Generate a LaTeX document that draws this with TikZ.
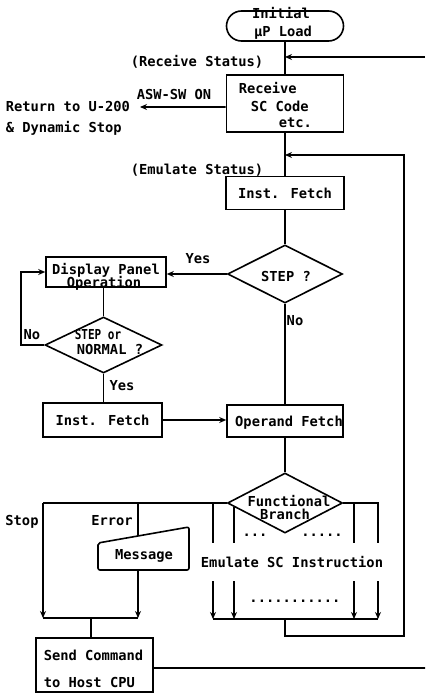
\documentclass[tikz,border=0pt]{standalone}
\usepackage{fontspec}
\usepackage{graphicx}
\setmainfont{DejaVu Sans Mono}
\usetikzlibrary{shapes.geometric,shapes.misc,arrows.meta}
\begin{document}
\begin{tikzpicture}[x=1bp,y=-1bp,line width=1.6bp,
  every node/.style={inner sep=0pt,font=\fontsize{13.8}{17}\selectfont\bfseries,text height=10bp,text depth=0bp},
  box/.style={draw,rectangle},
  term/.style={draw,rounded rectangle},
  dec/.style={draw,diamond},
  arr/.style={-{Stealth[length=7bp,width=6bp]}}]
\useasboundingbox (0,0) rectangle (425,694);

% --- top
\node[term,minimum width=117bp,minimum height=30bp] (init) at (285,26) {};
\node (initA) at (281,14) {Initial};
\node (initB) at (283,32) {μP Load};
\coordinate (rin) at (425,57);
\node (rs) at (197,62) {(Receive Status)};
\node[box,minimum width=117bp,minimum height=57bp] (recv) at (285,103.5) {};
\node[anchor=west] (rA) at (238,89) {Receive};
\node[anchor=west] (rB) at (250,107) {SC Code};
\node[anchor=west] (rC) at (278,123) {etc.};
\node (asw) at (174,95) {ASW-SW ON};
\node[anchor=west] (ret1) at (5,107) {Return to U-200};
\node[anchor=west] (ret2) at (5,128) {\& Dynamic Stop};
\coordinate (retp) at (140,107);

\draw (init.south) -- (recv.north);
\draw[arr] (rin) -- (rin -| init.south);
\draw[arr] ([yshift=-3.5bp]recv.west) -- (retp);

% --- emulate
\node (es) at (197,169) {(Emulate Status)};
\node[box,minimum width=118bp,minimum height=33bp] (inst1) at (285,193) {Inst. Fetch};
\node[dec,minimum width=115bp,minimum height=58bp] (step) at (285,274) {};
\node (stept) at (286,276) {STEP ?};
\node[box,minimum width=120bp,minimum height=30bp] (dpo) at (106,272) {};
\node (dpoA) at (106,269) {Display Panel};
\node (dpoB) at (104,282) {Operation};
\node (yes1) at (198,258) {Yes};
\node[dec,minimum width=117bp,minimum height=56bp] (snm) at (103.5,345) {};
\node (snmA) at (98,334) {\scalebox{0.8}[1]{STEP or}};
\node (snmB) at (110,349) {NORMAL ?};
\node (no1) at (32,334) {No};
\node (yes2) at (122,385) {Yes};
\node (no2) at (295,320) {No};
\node[box,minimum width=119bp,minimum height=34bp] (inst2) at (102.5,420) {Inst. Fetch};
\node[box,minimum width=116bp,minimum height=32bp] (opf) at (285,421) {};
\node (opft) at (289,421) {Operand Fetch};

\draw (recv.south) -- (inst1.north);
\draw (inst1.south) -- (step.north);
\draw[arr] (step.west) -- (step.west -| dpo.east);
\draw (snm.north |- dpo.south) -- (snm.north);
\draw[arr] (snm.west) -- ++(-23,0) |- (dpo.west);
\draw (snm.south) -- (snm.south |- inst2.north);
\draw[arr] (inst2.east) -- (inst2.east -| opf.west);
\draw (step.south) -- (opf.north);

% --- functional branch
\node[dec,minimum width=115bp,minimum height=60bp] (fb) at (285,503) {};
\node (fbA) at (289,501) {Functional};
\node (fbB) at (285,514) {Branch};
\draw (opf.south) -- (fb.north);

\node (d1) at (255,531) {...};
\node (d2) at (322,531) {.....};
\node (d3) at (295,597) {...........};
\node (emu) at (292,562) {Emulate SC Instruction};

\coordinate (bL) at (43,503);
\coordinate (bE) at (138,503);
\coordinate (b3) at (213,503);
\coordinate (b4) at (234,507);
\coordinate (b5) at (354,503);
\coordinate (b6) at (378,503);
\coordinate (u3) at (213,543);
\coordinate (u4) at (234,543);
\coordinate (u5) at (354,543);
\coordinate (u6) at (378,543);
\coordinate (l3) at (213,581);
\coordinate (l4) at (234,581);
\coordinate (l5) at (354,581);
\coordinate (l6) at (378,581);
\coordinate (e3) at (213,619);
\coordinate (e4) at (234,619);
\coordinate (e5) at (354,619);
\coordinate (e6) at (378,619);
\coordinate (ej) at (285,619);
\coordinate (lc1) at (404,636);
\coordinate (lc2) at (404,155);

\draw (fb.west) -- (bL);
\draw (b3) -- (u3);
\draw (b4) -- (u4);
\draw (fb.east) -- (b6) -- (u6);
\draw (b5) -- (u5);
\draw[arr] (l3) -- (e3);
\draw[arr] (l4) -- (e4);
\draw[arr] (l5) -- (e5);
\draw[arr] (l6) -- (e6);
\draw (e3) -- (e6);
\draw[arr] (ej) |- (lc1) -- (lc2) -- (lc2 -| inst1.north);

% --- stop / error
\node (stop) at (22,520) {Stop};
\node (err) at (112,520) {Error};
\node (msg) at (144,554) {Message};
\draw[rounded corners=2bp] (98,543) -- (189,527) -- (189,570) -- (98,570) -- cycle;
\coordinate (mt) at (138,536);
\coordinate (mb) at (138,570);
\coordinate (sL) at (43,618);
\coordinate (sE) at (138,618);
\coordinate (sJ) at (91,618);
\draw[arr] (bL) -- (sL);
\draw (bE) -- (mt);
\draw[arr] (mb) -- (sE);
\draw (sL) -- (sE);

\node[box,minimum width=117bp,minimum height=54bp] (send) at (94.5,665) {};
\node[anchor=west] (sA) at (43,655) {Send Command};
\node[anchor=west] (sB) at (43,682) {to Host CPU};
\coordinate (rout) at (425,668);
\draw (sJ) -- (sJ |- send.north);
\draw ([yshift=-3bp]send.east) -- (rout);
\end{tikzpicture}
\end{document}
